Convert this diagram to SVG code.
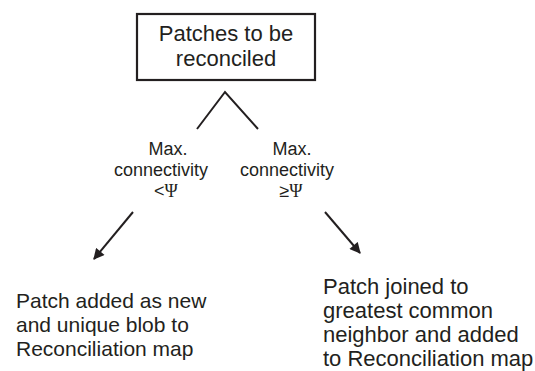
<svg xmlns="http://www.w3.org/2000/svg" width="535" height="371" viewBox="0 0 535 371">
  <style>
    .t { font-family: "Liberation Sans", Arial, sans-serif; fill: #231f20; }
    .big { font-size: 21px; }
    .big2 { font-size: 22px; }
    .lbl { font-size: 18px; }
    .sym { font-family: "Liberation Serif", "Times New Roman", serif; }
    .ln { stroke: #231f20; stroke-width: 2; fill: none; }
  </style>
  <defs>
    <marker id="ah" viewBox="0 0 10 10" refX="9" refY="5" markerWidth="6" markerHeight="5.5" orient="auto" markerUnits="strokeWidth">
      <path d="M0,0 L10,5 L0,10 Z" fill="#231f20"/>
    </marker>
  </defs>

  <g id="root">
    <rect x="137" y="14" width="178" height="66" fill="#fff" stroke="#231f20" stroke-width="2.2"/>
    <text class="t big2" x="226" y="41" text-anchor="middle">Patches to be</text>
    <text class="t big2" x="226" y="66" text-anchor="middle">reconciled</text>
  </g>

  <g id="connectors">
    <polyline class="ln" points="197,129 225,92 258,129"/>
    <line class="ln" x1="133" y1="212" x2="94" y2="259" marker-end="url(#ah)"/>
    <line class="ln" x1="325" y1="212" x2="360" y2="253" marker-end="url(#ah)"/>
  </g>

  <g id="cond-low">
    <text class="t lbl" x="168" y="155" text-anchor="middle">Max.</text>
    <text class="t lbl" x="161" y="176" text-anchor="middle">connectivity</text>
    <text class="t lbl" x="166" y="197" text-anchor="middle">&lt;<tspan class="sym">Ψ</tspan></text>
  </g>

  <g id="cond-high">
    <text class="t lbl" x="292" y="155" text-anchor="middle">Max.</text>
    <text class="t lbl" x="287" y="176" text-anchor="middle">connectivity</text>
    <text class="t lbl" x="291" y="197" text-anchor="middle">≥<tspan class="sym">Ψ</tspan></text>
  </g>

  <g id="new-blob">
    <text class="t big" x="16" y="308">Patch added as new</text>
    <text class="t big" x="16" y="332">and unique blob to</text>
    <text class="t big" x="16" y="356">Reconciliation map</text>
  </g>

  <g id="joined">
    <text class="t big2" x="323" y="294">Patch joined to</text>
    <text class="t big2" x="323" y="318">greatest common</text>
    <text class="t big2" x="323" y="342">neighbor and added</text>
    <text class="t big2" x="323" y="366">to Reconciliation map</text>
  </g>
</svg>
